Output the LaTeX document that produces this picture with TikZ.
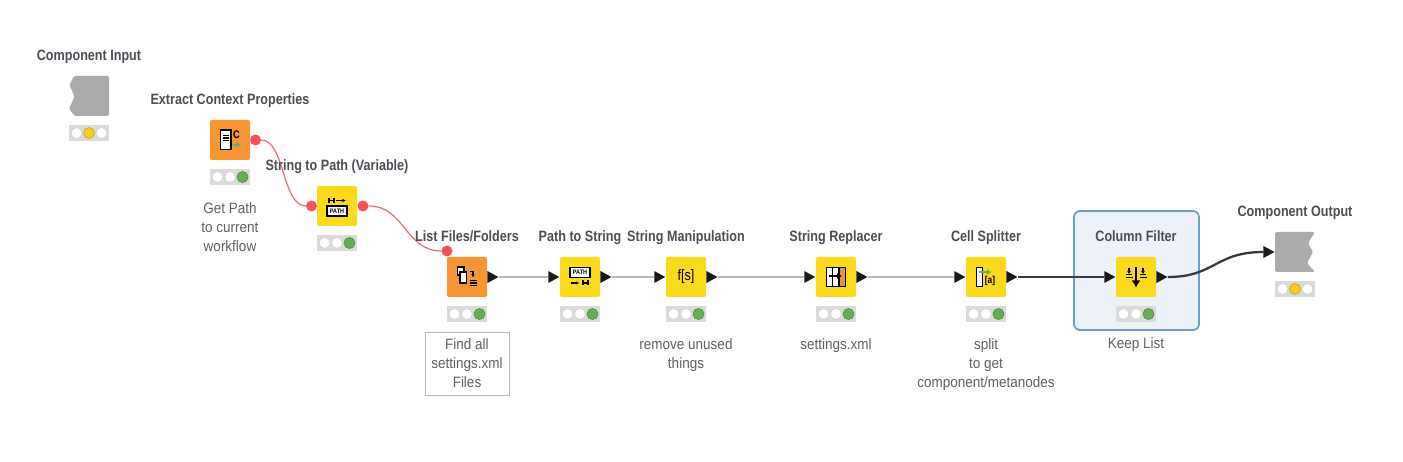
\documentclass[tikz,border=0pt]{standalone}
\usepackage{fontspec}
\setmainfont[FakeStretch=0.84]{Liberation Sans}
\newfontfamily\notefont[FakeStretch=0.9]{Liberation Sans}
\usepackage{tikz}
\usetikzlibrary{arrows.meta,positioning,shapes.geometric,backgrounds}
\definecolor{toolorange}{HTML}{F79634}
\definecolor{toolyellow}{HTML}{FBD91D}
\definecolor{toolgreen}{HTML}{66AE52}
\definecolor{lampyellow}{HTML}{F6CF1C}
\definecolor{iconorange}{HTML}{E8913A}
\definecolor{icongreen}{HTML}{62AE6E}
\definecolor{flowred}{HTML}{F2686B}
\definecolor{portred}{HTML}{F5535A}
\definecolor{shapegrey}{HTML}{ABABAB}
\definecolor{barline}{HTML}{B9B9B9}
\definecolor{darkline}{HTML}{3A3A3A}
\definecolor{panelfill}{HTML}{EDF1F8}
\definecolor{panelline}{HTML}{6E9FCB}
\definecolor{labelgrey}{HTML}{4A4E55}
\definecolor{notegrey}{HTML}{5C6068}
\tikzset{
    tile/.style={rounded corners=2, minimum size=40, inner sep=0, fill=#1},
    lampbar/.style={minimum width=40, minimum height=16, inner sep=0, fill=black!14},
    lamp/.style={draw=#1!84!black, line width=0.8, fill=#1},
    titletext/.style={font=\fontsize{15}{19}\selectfont\bfseries, text=labelgrey, inner sep=0, anchor=base},
    notetext/.style={font=\notefont\fontsize{15}{19}\selectfont, text=notegrey, align=center, inner sep=0},
    redport/.style={circle, fill=portred, minimum size=11, inner sep=0},
    tripoint/.style={isosceles triangle, isosceles triangle stretches, fill=black!90, minimum width=12, minimum height=11, inner sep=0},
    thinflow/.style={barline, line width=1.5},
    darkflow/.style={darkline, line width=2.3},
    redflow/.style={flowred, line width=1.2},
    iconline/.style={black, line width=1.1},
    iconarrow/.style={line width=1.5, -{Latex[length=4.5,width=6]}},
    tinytext/.style={font=\fontsize{6.5}{7}\selectfont\bfseries, inner sep=0}
}
\newcommand{\lamps}[4]{
    \node[lampbar] (#1-lamps) at (#2) {};
    \draw[lamp=white] (#1-lamps.center) ++(-12.5,0) circle (5.5);
    \draw[lamp=#3] (#1-lamps.center) circle (5.5);
    \draw[lamp=#4] (#1-lamps.center) ++(12.5,0) circle (5.5);
}
\begin{document}
\begin{tikzpicture}[x=1pt,y=-1pt]
    \useasboundingbox (0,0) rectangle (1403,462);
    \begin{scope}[on background layer]
        \draw[panelline, line width=1.8, fill=panelfill, rounded corners=6] (1074,211) rectangle (1199,330);
    \end{scope}
    \foreach \id/\x/\y/\col/\name in {
        ecp/230/140/toolorange/{Extract Context Properties},
        stp/337/206/toolyellow/{String to Path (Variable)},
        lff/467/277/toolorange/{List Files/Folders},
        pts/580/277/toolyellow/{Path to String},
        stm/686/277/toolyellow/{String Manipulation},
        str/836/277/toolyellow/{String Replacer},
        cls/986/277/toolyellow/{Cell Splitter},
        clf/1136/277/toolyellow/{Column Filter}}{
        \node[tile=\col] (\id) at (\x,\y) {};
        \node[titletext] (\id-title) at (\x,\y-35.5) {\name};
        \lamps{\id}{\x,\y+37}{white}{toolgreen}
    }
    \fill[shapegrey, rounded corners=1.5] (109,76) -- (74,76) -- (69.5,85) -- (74.5,96.5) -- (69,109) -- (75,116) -- (109,116) -- cycle;
    \fill[shapegrey, rounded corners=1.5] (1275,232) -- (1315,232) -- (1308,243) -- (1313,252) -- (1307,263) -- (1315,272) -- (1275,272) -- cycle;
    \node[titletext] (cin-title) at (89,61) {Component Input};
    \node[titletext] (cot-title) at (1295,217) {Component Output};
    \lamps{cin}{89,133}{lampyellow}{white}
    \lamps{cot}{1295,289}{lampyellow}{white}

    \node[redport] (ecp-out) at (255.5,140) {};
    \node[redport] (stp-in) at (311.5,206) {};
    \node[redport] (stp-out) at (363,206) {};
    \node[redport] (lff-in) at (447,251) {};
    \foreach \id in {lff,pts,stm,str,cls,clf}{
        \node[tripoint, right=0pt of \id] (\id-out) {};
    }
    \foreach \id in {pts,stm,str,cls,clf}{
        \node[tripoint, left=0pt of \id] (\id-in) {};
    }
    \node[tripoint, anchor=east] (cot-in) at (1275,252) {};

    \begin{scope}[on background layer]
        \draw[redflow] (ecp-out) .. controls (285,140) and (282,206) .. (stp-in);
        \draw[redflow] (stp-out) .. controls (405,206) and (405,251) .. (lff-in);
        \foreach \a/\b in {lff/pts,pts/stm,stm/str,str/cls}{
            \draw[thinflow] (\a-out) -- (\b-in);
        }
        \draw[darkflow] (cls-out) -- (clf-in);
        \draw[darkflow] (clf-out) .. controls (1215,277) and (1215,252) .. (cot-in);
    \end{scope}

    \node[notetext] (ecp-note) at (230,227) {Get Path\\to current\\workflow};
    \node[notetext, draw=black!28, minimum width=84, minimum height=63] (lff-note) at (467,363.5) {Find all\\settings.xml\\Files};
    \node[notetext] (stm-note) at (686,355.5) {remove unused\\things};
    \node[notetext] (str-note) at (836,346) {settings.xml};
    \node[notetext] (cls-note) at (986,365) {split\\to get\\component/metanodes};
    \node[notetext] (clf-note) at (1136,345) {Keep List};

    \begin{scope}[shift={(230,140)}]
        \draw[iconline, fill=white] (-9.5,-10) rectangle (1,9.5);
        \foreach \v in {-4.5,-2,0.5}{
            \draw[iconline] (-7,\v) -- (-1.5,\v);
        }
        \node[font=\fontsize{11}{11}\selectfont\bfseries, inner sep=0] (ecp-c) at (6.5,-5) {C};
        \draw[icongreen, iconarrow] (2.5,5) -- (11,5);
    \end{scope}
    \begin{scope}[shift={(337,206)}]
        \draw[iconline] (-8,-8) -- (-8,-3) (-3,-8) -- (-3,-3) (-8,-5.5) -- (-3,-5.5);
        \draw[iconline, -{Latex[length=3.5,width=3.5]}] (-1,-5.5) -- (9,-5.5);
        \node[tinytext, draw, fill=white, minimum width=20, minimum height=10, line width=1.1] (stp-path) at (0,5) {PATH};
    \end{scope}
    \begin{scope}[shift={(467,277)}]
        \draw[iconline, fill=white] (-9.5,-10) rectangle (-3,-2);
        \draw[iconline, fill=white] (-7,-5) rectangle (-0.5,6);
        \draw[iconline, -{Latex[length=3,width=3.5]}] (3,-5.5) -- (6,-5.5) -- (6,0.5);
        \foreach \v in {3.5,6,8.5}{
            \draw[iconline] (2.5,\v) -- (10,\v);
        }
    \end{scope}
    \begin{scope}[shift={(580,277)}]
        \node[tinytext, draw, fill=white, minimum width=20, minimum height=10, line width=1.1] (pts-path) at (0,-4.5) {PATH};
        \draw[iconline, -{Latex[length=3.5,width=3.5]}] (-9,6) -- (-0.5,6);
        \draw[iconline] (3,3.5) -- (3,8.5) (8,3.5) -- (8,8.5) (3,6) -- (8,6);
    \end{scope}
    \begin{scope}[shift={(686,277)}]
        \node[font=\fontsize{15}{15}\selectfont, inner sep=0] (stm-icon) at (0,0) {f[s]};
    \end{scope}
    \begin{scope}[shift={(836,277)}]
        \draw[iconline, fill=white] (-9.5,-9.5) rectangle (9.5,9.5);
        \fill[iconorange] (3,-9) rectangle (9,9);
        \draw[iconline] (-9.5,-9.5) rectangle (9.5,9.5);
        \draw[iconline] (-3.5,-9.5) -- (-3.5,9.5) (3,-9.5) -- (3,9.5);
        \draw[black, line width=1.8, -{Latex[length=5,width=6]}] (-7,-1) -- (6,-1);
    \end{scope}
    \begin{scope}[shift={(986,277)}]
        \draw[iconline, fill=white] (-9.5,-9.5) rectangle (-3.7,9.5);
        \draw[icongreen, iconarrow] (-7,-5) -- (5.5,-5);
        \node[font=\fontsize{10}{10}\selectfont\bfseries, inner sep=0] (cls-icon) at (4,4.3) {[a]};
    \end{scope}
    \begin{scope}[shift={(1136,277)}]
        \draw[black, line width=2, -{Latex[length=7,width=9]}] (0,-10) -- (0,10.5);
        \foreach \u in {-7,7}{
            \draw[iconline, -{Latex[length=3,width=4]}] (\u,-9) -- (\u,-3);
            \draw[iconline] (\u-3,-2.5) -- (\u+3,-2.5);
            \draw[iconline] (\u-3.5,0.5) -- (\u+3.5,0.5);
        }
    \end{scope}
\end{tikzpicture}
\end{document}
